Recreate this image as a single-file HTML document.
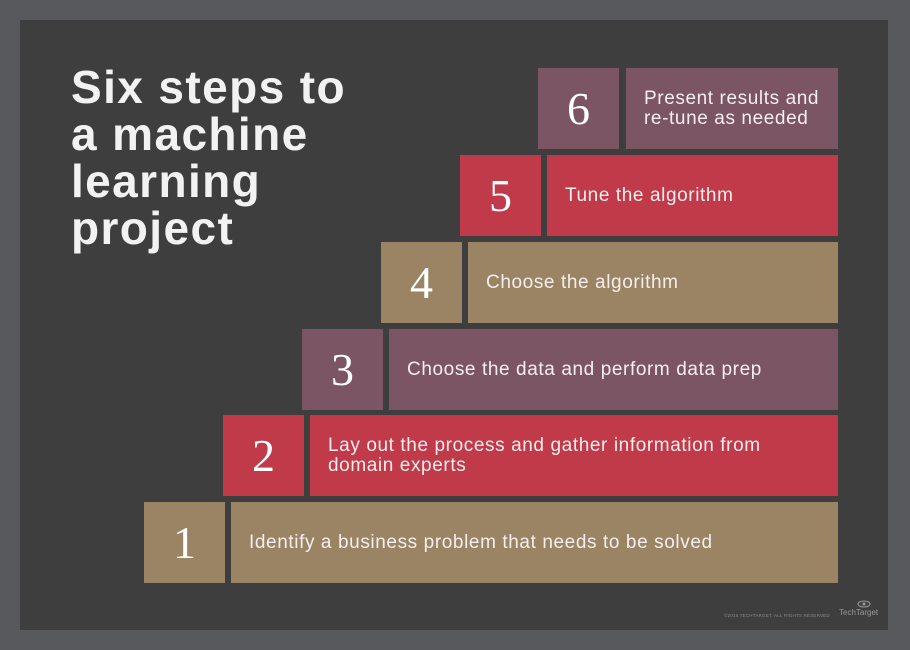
<!DOCTYPE html>
<html><head><meta charset="utf-8"><style>
html,body{margin:0;padding:0}
body{width:910px;height:650px;background:#58595c;position:relative;overflow:hidden;font-family:"Liberation Sans",sans-serif}
#in{position:absolute;left:20px;top:20px;width:868px;height:610px;background:#3e3e3f}
h1{position:absolute;left:71px;top:64px;margin:0;font-size:46px;line-height:47px;color:#f2f2f2;font-weight:bold;letter-spacing:1.4px}
.b{position:absolute;height:81px}
.n{width:81px;color:#fff;font-family:"Liberation Serif",serif;font-size:46px;text-align:center;line-height:81px}
.t{color:#f5eeee;font-size:19px;letter-spacing:0.6px;line-height:20px;display:flex;align-items:center;padding-left:18px;box-sizing:border-box}
.tan{background:#9b8463}.red{background:#c03a49}.mau{background:#7b5564}
.f{position:absolute;font-size:4.5px;color:#8a8a8a;left:724px;top:613px;letter-spacing:.2px}
.tt{position:absolute;left:839px;top:608px;font-size:8px;color:#999}
</style></head><body>
<div id="in"></div>
<h1>Six steps to<br>a machine<br>learning<br>project</h1>
<div class="b n mau" style="left:538px;top:68px">6</div>
<div class="b t mau" style="left:626px;top:68px;width:212px">Present results and<br>re-tune as needed</div>
<div class="b n red" style="left:460px;top:155px">5</div>
<div class="b t red" style="left:547px;top:155px;width:291px">Tune the algorithm</div>
<div class="b n tan" style="left:381px;top:242px">4</div>
<div class="b t tan" style="left:468px;top:242px;width:370px">Choose the algorithm</div>
<div class="b n mau" style="left:302px;top:329px">3</div>
<div class="b t mau" style="left:389px;top:329px;width:449px">Choose the data and perform data prep</div>
<div class="b n red" style="left:223px;top:415px">2</div>
<div class="b t red" style="left:310px;top:415px;width:528px">Lay out the process and gather information from<br>domain experts</div>
<div class="b n tan" style="left:144px;top:502px">1</div>
<div class="b t tan" style="left:231px;top:502px;width:607px">Identify a business problem that needs to be solved</div>
<div class="f">©2018 TECHTARGET. ALL RIGHTS RESERVED</div>
<div class="tt">TechTarget</div>
<svg style="position:absolute;left:857px;top:600px" width="14" height="8"><ellipse cx="7" cy="4" rx="6" ry="3" fill="none" stroke="#999" stroke-width="1"/><circle cx="7" cy="4" r="1.5" fill="#999"/></svg>
</body></html>
